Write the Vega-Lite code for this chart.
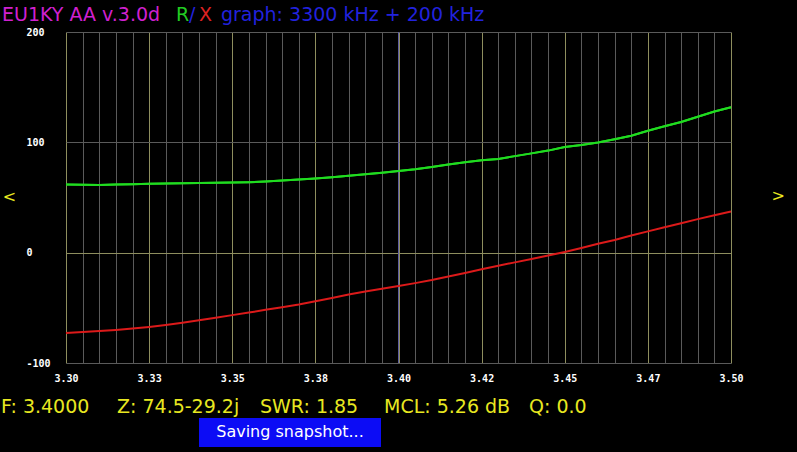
{
  "$schema": "https://vega.github.io/schema/vega-lite/v6.json",
  "width": 665,
  "height": 331,
  "autosize": {"type": "none"},
  "padding": {"left": 66, "top": 32, "right": 66, "bottom": 89},
  "background": "#000000",
  "config": {"view": {"stroke": null}},
  "resolve": {"axis": {"x": "independent", "y": "independent"}},
  "datasets": {
    "curve": [
      {"f": 3.300, "R": 61.8, "X": -72.7},
      {"f": 3.305, "R": 61.5, "X": -72.0},
      {"f": 3.310, "R": 61.3, "X": -71.0},
      {"f": 3.315, "R": 61.8, "X": -70.0},
      {"f": 3.320, "R": 62.0, "X": -68.8},
      {"f": 3.325, "R": 62.5, "X": -67.3},
      {"f": 3.330, "R": 62.6, "X": -65.5},
      {"f": 3.335, "R": 62.9, "X": -63.5},
      {"f": 3.340, "R": 63.2, "X": -61.3},
      {"f": 3.345, "R": 63.4, "X": -59.0},
      {"f": 3.350, "R": 63.6, "X": -56.6},
      {"f": 3.355, "R": 63.9, "X": -54.3},
      {"f": 3.360, "R": 64.5, "X": -51.8},
      {"f": 3.365, "R": 65.3, "X": -49.5},
      {"f": 3.370, "R": 66.3, "X": -47.0},
      {"f": 3.375, "R": 67.3, "X": -44.0},
      {"f": 3.380, "R": 68.4, "X": -41.0},
      {"f": 3.385, "R": 69.7, "X": -38.0},
      {"f": 3.390, "R": 71.0, "X": -35.2},
      {"f": 3.395, "R": 72.5, "X": -32.7},
      {"f": 3.400, "R": 74.0, "X": -30.3},
      {"f": 3.405, "R": 75.6, "X": -27.6},
      {"f": 3.410, "R": 77.6, "X": -24.8},
      {"f": 3.415, "R": 80.0, "X": -21.6},
      {"f": 3.420, "R": 82.0, "X": -18.4},
      {"f": 3.425, "R": 83.8, "X": -15.0},
      {"f": 3.430, "R": 85.0, "X": -11.8},
      {"f": 3.435, "R": 87.5, "X": -8.8},
      {"f": 3.440, "R": 90.0, "X": -5.8},
      {"f": 3.445, "R": 92.5, "X": -2.6},
      {"f": 3.450, "R": 95.8, "X": 0.6},
      {"f": 3.455, "R": 97.5, "X": 4.3},
      {"f": 3.460, "R": 99.8, "X": 8.0},
      {"f": 3.465, "R": 102.8, "X": 11.5},
      {"f": 3.470, "R": 106.0, "X": 15.5},
      {"f": 3.475, "R": 110.5, "X": 19.3},
      {"f": 3.480, "R": 114.5, "X": 23.0},
      {"f": 3.485, "R": 118.5, "X": 26.6},
      {"f": 3.490, "R": 123.2, "X": 30.4},
      {"f": 3.495, "R": 128.0, "X": 34.0},
      {"f": 3.500, "R": 131.8, "X": 37.4}
    ]
  },
  "layer": [
    {
      "data": {"name": "curve"},
      "mark": {"type": "line", "color": "#20dc20", "strokeWidth": 2},
      "encoding": {
        "x": {
          "field": "f", "type": "quantitative",
          "scale": {"domain": [3.3, 3.5], "nice": false, "zero": false},
          "axis": {
            "values": [3.3, 3.305, 3.31, 3.315, 3.32, 3.325, 3.33, 3.335, 3.34, 3.345, 3.35, 3.355, 3.36, 3.365, 3.37, 3.375, 3.38, 3.385, 3.39, 3.395, 3.4, 3.405, 3.41, 3.415, 3.42, 3.425, 3.43, 3.435, 3.44, 3.445, 3.45, 3.455, 3.46, 3.465, 3.47, 3.475, 3.48, 3.485, 3.49, 3.495, 3.5],
            "domain": false, "ticks": false, "tickSize": 0,
            "grid": true, "gridWidth": 1,
            "gridColor": {"condition": {"test": "round(datum.value*1000) % 25 === 0", "value": "#8e8e5e"}, "value": "#5a5a5a"},
            "labelExpr": "round(datum.value*1000)==3300?'3.30':round(datum.value*1000)==3325?'3.33':round(datum.value*1000)==3350?'3.35':round(datum.value*1000)==3375?'3.38':round(datum.value*1000)==3400?'3.40':round(datum.value*1000)==3425?'3.42':round(datum.value*1000)==3450?'3.45':round(datum.value*1000)==3475?'3.47':round(datum.value*1000)==3500?'3.50':''",
            "labelFont": "DejaVu Sans Mono", "labelFontWeight": "bold", "labelFontSize": 10,
            "labelColor": "#ffffff", "labelPadding": 15, "labelBaseline": "middle",
            "labelFlush": false, "labelOverlap": false, "title": null
          }
        },
        "y": {
          "field": "R", "type": "quantitative",
          "scale": {"domain": [-100, 200], "nice": false, "zero": false},
          "axis": {
            "values": [-100, 0, 100, 200],
            "domain": false, "ticks": false, "tickSize": 0,
            "grid": true, "gridWidth": 1,
            "gridColor": {"condition": {"test": "datum.value === 0", "value": "#8e8e5e"}, "value": "#5a5a5a"},
            "labelExpr": "datum.value == -100 ? '-100' : datum.label",
            "labelFont": "DejaVu Sans Mono", "labelFontWeight": "bold", "labelFontSize": 10,
            "labelColor": "#ffffff", "labelAlign": "left", "labelPadding": 40, "labelBaseline": "middle",
            "labelOverlap": false, "title": null
          }
        }
      }
    },
    {
      "data": {"values": [{"c": "center"}]},
      "mark": {"type": "rule", "color": "#5c5ca0", "strokeWidth": 1},
      "encoding": {
        "x": {"datum": 3.4, "scale": {"domain": [3.3, 3.5], "nice": false, "zero": false}, "axis": null}
      }
    },
    {
      "data": {"name": "curve"},
      "mark": {"type": "line", "color": "#20dc20", "strokeWidth": 2},
      "encoding": {
        "x": {"field": "f", "type": "quantitative", "scale": {"domain": [3.3, 3.5], "nice": false, "zero": false}, "axis": null},
        "y": {"field": "R", "type": "quantitative", "scale": {"domain": [-100, 200], "nice": false, "zero": false}, "axis": null}
      }
    },
    {
      "data": {"name": "curve"},
      "mark": {"type": "line", "color": "#dc1a1a", "strokeWidth": 2},
      "encoding": {
        "x": {"field": "f", "type": "quantitative", "scale": {"domain": [3.3, 3.5], "nice": false, "zero": false}, "axis": null},
        "y": {"field": "X", "type": "quantitative", "scale": {"domain": [-100, 200], "nice": false, "zero": false}, "axis": null}
      }
    },
    {
      "data": {"values": [{"t": "EU1KY AA v.3.0d"}]},
      "mark": {"type": "text", "color": "#d020d0", "font": "DejaVu Sans", "fontSize": 19, "align": "left", "baseline": "alphabetic"},
      "encoding": {
        "x": {"datum": 3.28075, "scale": {"domain": [3.3, 3.5], "nice": false, "zero": false}, "axis": null},
        "y": {"datum": 210.4, "scale": {"domain": [-100, 200], "nice": false, "zero": false}, "axis": null},
        "text": {"field": "t"}
      }
    },
    {
      "data": {"values": [{"t": "R"}]},
      "mark": {"type": "text", "color": "#22cc22", "font": "DejaVu Sans", "fontSize": 19, "align": "left", "baseline": "alphabetic"},
      "encoding": {
        "x": {"datum": 3.33308, "scale": {"domain": [3.3, 3.5], "nice": false, "zero": false}, "axis": null},
        "y": {"datum": 210.4, "scale": {"domain": [-100, 200], "nice": false, "zero": false}, "axis": null},
        "text": {"field": "t"}
      }
    },
    {
      "data": {"values": [{"t": "/"}]},
      "mark": {"type": "text", "color": "#2222dd", "font": "DejaVu Sans", "fontSize": 19, "align": "left", "baseline": "alphabetic"},
      "encoding": {
        "x": {"datum": 3.33699, "scale": {"domain": [3.3, 3.5], "nice": false, "zero": false}, "axis": null},
        "y": {"datum": 210.4, "scale": {"domain": [-100, 200], "nice": false, "zero": false}, "axis": null},
        "text": {"field": "t"}
      }
    },
    {
      "data": {"values": [{"t": "X"}]},
      "mark": {"type": "text", "color": "#dd2222", "font": "DejaVu Sans", "fontSize": 19, "align": "left", "baseline": "alphabetic"},
      "encoding": {
        "x": {"datum": 3.34, "scale": {"domain": [3.3, 3.5], "nice": false, "zero": false}, "axis": null},
        "y": {"datum": 210.4, "scale": {"domain": [-100, 200], "nice": false, "zero": false}, "axis": null},
        "text": {"field": "t"}
      }
    },
    {
      "data": {"values": [{"t": "graph: 3300 kHz + 200 kHz"}]},
      "mark": {"type": "text", "color": "#2222dd", "font": "DejaVu Sans", "fontSize": 19, "align": "left", "baseline": "alphabetic"},
      "encoding": {
        "x": {"datum": 3.346617, "scale": {"domain": [3.3, 3.5], "nice": false, "zero": false}, "axis": null},
        "y": {"datum": 210.4, "scale": {"domain": [-100, 200], "nice": false, "zero": false}, "axis": null},
        "text": {"field": "t"}
      }
    },
    {
      "data": {"values": [{"t": "<", "f": 3.283008, "v": 50.45}, {"t": ">", "f": 3.514226, "v": 51.09}]},
      "mark": {"type": "text", "color": "#e8e820", "font": "DejaVu Sans", "fontSize": 16, "align": "center", "baseline": "middle"},
      "encoding": {
        "x": {"field": "f", "type": "quantitative", "scale": {"domain": [3.3, 3.5], "nice": false, "zero": false}, "axis": null},
        "y": {"field": "v", "type": "quantitative", "scale": {"domain": [-100, 200], "nice": false, "zero": false}, "axis": null},
        "text": {"field": "t"}
      }
    },
    {
      "data": {"values": [
        {"t": "F: 3.4000", "f": 3.280451},
        {"t": "Z: 74.5-29.2j", "f": 3.315338},
        {"t": "SWR: 1.85", "f": 3.358346},
        {"t": "MCL: 5.26 dB", "f": 3.395639},
        {"t": "Q: 0.0", "f": 3.439248}
      ]},
      "mark": {"type": "text", "color": "#e8e820", "font": "DejaVu Sans", "fontSize": 19, "align": "left", "baseline": "alphabetic"},
      "encoding": {
        "x": {"field": "f", "type": "quantitative", "scale": {"domain": [3.3, 3.5], "nice": false, "zero": false}, "axis": null},
        "y": {"datum": -145.6, "scale": {"domain": [-100, 200], "nice": false, "zero": false}, "axis": null},
        "text": {"field": "t"}
      }
    },
    {
      "data": {"values": [{"c": "box"}]},
      "mark": {"type": "rect", "color": "#0c0cf5"},
      "encoding": {
        "x": {"datum": 3.34, "scale": {"domain": [3.3, 3.5], "nice": false, "zero": false}, "axis": null},
        "x2": {"datum": 3.394737},
        "y": {"datum": -149.85, "scale": {"domain": [-100, 200], "nice": false, "zero": false}, "axis": null},
        "y2": {"datum": -176.13}
      }
    },
    {
      "data": {"values": [{"t": "Saving snapshot..."}]},
      "mark": {"type": "text", "color": "#ffffff", "font": "DejaVu Sans", "fontSize": 16, "align": "center", "baseline": "middle"},
      "encoding": {
        "x": {"datum": 3.367368, "scale": {"domain": [3.3, 3.5], "nice": false, "zero": false}, "axis": null},
        "y": {"datum": -162.99, "scale": {"domain": [-100, 200], "nice": false, "zero": false}, "axis": null},
        "text": {"field": "t"}
      }
    }
  ]
}
